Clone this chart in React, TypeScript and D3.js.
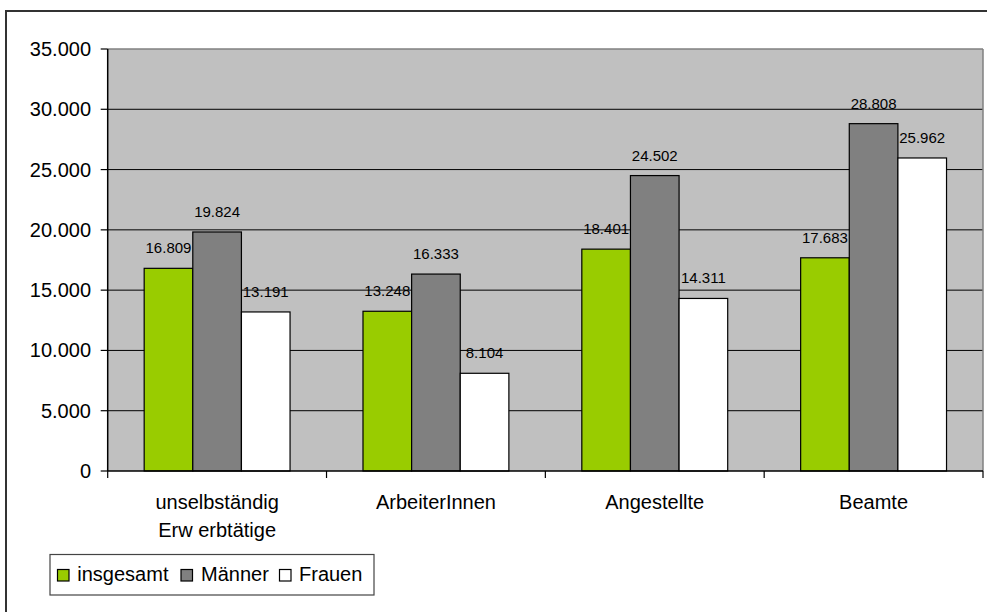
import React from "react";
import * as d3 from "d3";

const categories: string[][] = [
  ["unselbständig", "Erw erbtätige"],
  ["ArbeiterInnen"],
  ["Angestellte"],
  ["Beamte"],
];
const seriesNames = ["insgesamt", "Männer", "Frauen"];
const insgesamt = [16809, 13248, 18401, 17683];
const maenner = [19824, 16333, 24502, 28808];
const frauen = [13191, 8104, 14311, 25962];
const yTicks = [0, 5000, 10000, 15000, 20000, 25000, 30000, 35000];
const colors = ["#99CC00", "#808080", "#FFFFFF"];

const fmt = (v: number) =>
  v === 0 ? "0" : d3.format(",")(v).replace(/,/g, ".");

export default function App() {
  const W = 987;
  const H = 612;
  const left = 107.7;
  const right = 983;
  const top = 49;
  const bottom = 471;
  const font = "'Liberation Sans', Arial, sans-serif";

  const y = d3.scaleLinear().domain([0, 35000]).range([bottom, top]);
  const x0 = d3
    .scaleBand<number>()
    .domain(d3.range(categories.length))
    .range([left, right])
    .paddingInner(0)
    .paddingOuter(0);
  const groupW = x0.bandwidth();
  const barW = groupW / (3 + 1.5);
  const x1 = d3
    .scaleBand<number>()
    .domain([0, 1, 2])
    .range([groupW * 0.5 * 1.5 / 4.5, groupW - (groupW * 0.5 * 1.5) / 4.5])
    .padding(0);

  const series = [insgesamt, maenner, frauen];

  return (
    <svg
      width={W}
      height={H}
      style={{ position: "absolute", left: 0, top: 0, background: "#fff" }}
      fontFamily={font}
    >
      <rect x={0} y={0} width={W} height={H} fill="#fff" />
      {/* outer frame */}
      <rect x={6} y={11} width={1100} height={800} fill="none" stroke="#333" strokeWidth={2} />
      {/* plot area */}
      <rect x={left} y={top} width={right - left} height={bottom - top} fill="#C0C0C0" />
      {/* gridlines */}
      {yTicks.slice(1, -1).map((t) => (
        <line key={t} x1={left} x2={right} y1={y(t)} y2={y(t)} stroke="#000" strokeWidth={1} />
      ))}
      {/* plot border top/right */}
      <line x1={left} x2={right} y1={top} y2={top} stroke="#808080" strokeWidth={1.5} />
      <line x1={right} x2={right} y1={top} y2={bottom} stroke="#808080" strokeWidth={1.5} />
      {/* bars */}
      {series.map((vals, si) =>
        vals.map((v, ci) => {
          const bx = (x0(ci) as number) + (x1(si) as number);
          return (
            <rect
              key={`${si}-${ci}`}
              x={bx}
              y={y(v)}
              width={x1.bandwidth()}
              height={bottom - y(v)}
              fill={colors[si]}
              stroke="#000"
              strokeWidth={1.2}
            />
          );
        })
      )}
      {/* data labels */}
      {series.map((vals, si) =>
        vals.map((v, ci) => {
          const cx = (x0(ci) as number) + (x1(si) as number) + x1.bandwidth() / 2;
          return (
            <text
              key={`l${si}-${ci}`}
              x={cx}
              y={y(v) - 15}
              textAnchor="middle"
              fontSize={15}
              fill="#000"
            >
              {fmt(v)}
            </text>
          );
        })
      )}
      {/* y axis */}
      <line x1={left} x2={left} y1={top} y2={bottom} stroke="#000" strokeWidth={1.5} />
      {yTicks.map((t) => (
        <g key={t}>
          <line x1={left - 7} x2={left} y1={y(t)} y2={y(t)} stroke="#000" strokeWidth={1.2} />
          <text x={91} y={y(t) + 7} textAnchor="end" fontSize={20} fill="#000">
            {fmt(t)}
          </text>
        </g>
      ))}
      {/* x axis */}
      <line x1={left} x2={right} y1={bottom} y2={bottom} stroke="#000" strokeWidth={1.5} />
      {d3.range(categories.length + 1).map((i) => {
        const xx = left + i * groupW;
        return <line key={i} x1={xx} x2={xx} y1={bottom} y2={bottom + 7} stroke="#000" strokeWidth={1.2} />;
      })}
      {categories.map((lines, ci) => (
        <text
          key={ci}
          x={(x0(ci) as number) + groupW / 2}
          y={509}
          textAnchor="middle"
          fontSize={20}
          fill="#000"
        >
          {lines.map((ln, li) => (
            <tspan key={li} x={(x0(ci) as number) + groupW / 2} dy={li === 0 ? 0 : 27.5}>
              {ln}
            </tspan>
          ))}
        </text>
      ))}
      {/* legend */}
      <rect x={50} y={554.5} width={324} height={40.5} fill="#fff" stroke="#444" strokeWidth={1.2} />
      {seriesNames.map((n, i) => {
        const sx = [57.5, 181, 279.5][i];
        const tx = [77.3, 201, 299][i];
        return (
          <g key={n}>
            <rect x={sx} y={569.5} width={11.5} height={11.5} fill={colors[i]} stroke="#000" strokeWidth={1.2} />
            <text x={tx} y={580.5} fontSize={20} fill="#000">
              {n}
            </text>
          </g>
        );
      })}
    </svg>
  );
}
